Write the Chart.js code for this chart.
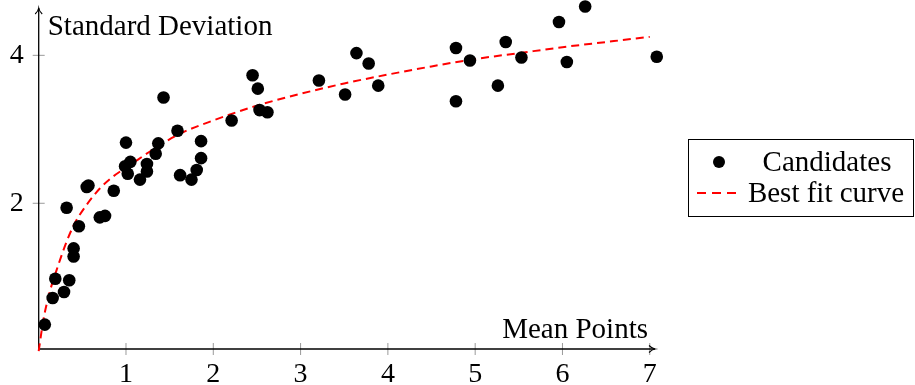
<!DOCTYPE html>
<html>
<head>
<meta charset="utf-8">
<script src="https://cdn.jsdelivr.net/npm/chart.js@4"></script>
<style>
html, body { margin: 0; padding: 0; background: #fff; }
#wrap { width: 915px; height: 385px; }
</style>
</head>
<body>
<div id="wrap"><canvas id="chart" width="915" height="385"></canvas></div>
<script>
// candidates: mean points vs standard deviation
const meanPoints = [0.07, 0.16, 0.19, 0.29, 0.35, 0.40, 0.40, 0.32, 0.46, 0.70, 0.76, 0.55, 0.57, 0.86,
    1.00, 0.99, 1.05, 1.02, 1.16, 1.24, 1.24, 1.34, 1.37, 1.59, 1.86, 1.86, 1.62, 1.75, 1.81, 1.43,
    2.21, 2.45, 2.51, 2.53, 2.62, 3.21, 3.51, 3.64, 3.78, 3.89, 4.78, 4.94, 4.78, 5.26, 5.35, 5.53,
    5.96, 6.05, 6.26, 7.08];
const stdDev = [0.36, 0.72, 0.98, 0.80, 0.96, 1.39, 1.28, 1.94, 1.69, 1.81, 1.83, 2.22, 2.24, 2.17,
    2.82, 2.50, 2.56, 2.40, 2.32, 2.53, 2.43, 2.67, 2.81, 2.98, 2.84, 2.61, 2.38, 2.32, 2.45, 3.43,
    3.12, 3.73, 3.55, 3.26, 3.23, 3.66, 3.47, 4.03, 3.89, 3.59, 4.10, 3.93, 3.38, 3.59, 4.18, 3.97,
    4.45, 3.91, 4.66, 3.98];

// best fit curve
const fitX = [0, 0.05, 0.1, 0.15, 0.2, 0.3, 0.4, 0.55, 0.7, 0.85, 1.05, 1.3, 1.6, 2, 2.5, 3, 3.5, 4, 4.5, 5, 5.5, 6, 6.5, 7];
const fitY = [0, 0.40, 0.68, 0.90, 1.08, 1.42, 1.70, 1.98, 2.20, 2.36, 2.52, 2.72, 2.93, 3.12, 3.32, 3.48, 3.62, 3.74, 3.85, 3.95, 4.03, 4.11, 4.18, 4.25];

const xTickValues = [1, 2, 3, 4, 5, 6, 7];
const yTickValues = [2, 4];
const seriesNames = ["Candidates", "Best fit curve"];
const xTitle = "Mean Points";
const yTitle = "Standard Deviation";

const FONT = "'Liberation Serif', 'Times New Roman', serif";
Chart.defaults.font.family = FONT;
Chart.defaults.font.size = 28;
Chart.defaults.color = "#000";

function seg(ctx, x1, y1, x2, y2) {
    ctx.beginPath();
    ctx.moveTo(x1, y1);
    ctx.lineTo(x2, y2);
    ctx.stroke();
}

const axesPlugin = {
    id: "axes",
    beforeDatasetsDraw(chart) {
        const ctx = chart.ctx;
        const xs = chart.scales.x, ys = chart.scales.y, a = chart.chartArea;
        const x0 = xs.getPixelForValue(0);
        const yb = a.bottom;
        ctx.save();
        // tick marks crossing the axes
        ctx.strokeStyle = "#9a9a9a";
        ctx.lineWidth = 1;
        xTickValues.forEach(v => {
            const p = xs.getPixelForValue(v);
            seg(ctx, p, yb - 6, p, yb + 6);
        });
        yTickValues.forEach(v => {
            const p = ys.getPixelForValue(v);
            seg(ctx, x0 - 6, p, x0 + 6, p);
        });
        // axis lines with arrows
        ctx.strokeStyle = "#000";
        ctx.lineWidth = 1.3;
        seg(ctx, x0, yb, x0, a.top);
        seg(ctx, x0, yb, a.right, yb);
        ctx.lineWidth = 1.1;
        ctx.beginPath();
        ctx.moveTo(x0 - 3.5, a.top + 6);
        ctx.quadraticCurveTo(x0 - 0.5, a.top + 3, x0, a.top);
        ctx.quadraticCurveTo(x0 + 0.5, a.top + 3, x0 + 3.5, a.top + 6);
        ctx.stroke();
        ctx.beginPath();
        ctx.moveTo(a.right - 6, yb - 3.5);
        ctx.quadraticCurveTo(a.right - 3, yb - 0.5, a.right, yb);
        ctx.quadraticCurveTo(a.right - 3, yb + 0.5, a.right - 6, yb + 3.5);
        ctx.stroke();
        ctx.restore();
    },
    afterDraw(chart) {
        const ctx = chart.ctx;
        const a = chart.chartArea;
        ctx.save();
        ctx.fillStyle = "#000";
        ctx.font = "29px " + FONT;
        ctx.textBaseline = "alphabetic";
        ctx.textAlign = "left";
        ctx.fillText(yTitle, a.left + 9, 35);
        ctx.textAlign = "right";
        ctx.fillText(xTitle, a.right - 7, a.bottom - 11);

        // legend box
        const bx = 688, by = 139, bw = 225, bh = 77;
        ctx.strokeStyle = "#000";
        ctx.lineWidth = 1;
        ctx.strokeRect(bx + 0.5, by + 0.5, bw, bh);
        const ds = chart.data.datasets;
        ctx.textAlign = "center";
        ctx.textBaseline = "middle";
        ctx.fillStyle = ds[0].backgroundColor;
        ctx.beginPath();
        ctx.arc(719, 162, 6, 0, Math.PI * 2);
        ctx.fill();
        ctx.fillStyle = "#000";
        ctx.fillText(ds[0].label, 827, 163);
        ctx.strokeStyle = ds[1].borderColor;
        ctx.lineWidth = ds[1].borderWidth;
        ctx.setLineDash([9, 6]);
        seg(ctx, 697, 193, 737, 193);
        ctx.setLineDash([]);
        ctx.fillText(ds[1].label, 826, 194);
        ctx.restore();
    }
};

const candidates = meanPoints.map((v, i) => ({ x: v, y: stdDev[i] }));
const fitCurve = fitX.map((v, i) => ({ x: v, y: fitY[i] }));

new Chart(document.getElementById("chart").getContext("2d"), {
    type: "scatter",
    data: {
        datasets: [
            {
                label: seriesNames[0],
                data: candidates,
                backgroundColor: "#000",
                borderWidth: 0,
                pointRadius: 6.3,
                pointHoverRadius: 6.3,
                clip: false
            },
            {
                label: seriesNames[1],
                data: fitCurve,
                showLine: true,
                borderColor: "#ff0000",
                borderWidth: 2,
                borderDash: [8, 5],
                pointRadius: 0,
                cubicInterpolationMode: "monotone",
                clip: false
            }
        ]
    },
    plugins: [axesPlugin],
    options: {
        responsive: false,
        devicePixelRatio: 1,
        animation: false,
        events: [],
        layout: { padding: { top: 8, right: 260, left: 0, bottom: 0 } },
        plugins: {
            legend: { display: false },
            tooltip: { enabled: false }
        },
        scales: {
            x: {
                type: "linear",
                min: 0,
                max: 7.06,
                grid: { display: false, drawTicks: false },
                border: { display: false },
                ticks: { padding: 9, maxRotation: 0 },
                afterBuildTicks: s => { s.ticks = xTickValues.map(v => ({ value: v })); },
                afterFit: s => { s.height = 36; s.paddingLeft = 0; s.paddingRight = 0; }
            },
            y: {
                type: "linear",
                min: 0.03,
                max: 4.64,
                grid: { display: false, drawTicks: false },
                border: { display: false },
                ticks: { padding: 15 },
                afterBuildTicks: s => { s.ticks = yTickValues.map(v => ({ value: v })); },
                afterFit: s => { s.width = 38.7; s.paddingTop = 0; s.paddingBottom = 0; }
            }
        }
    }
});
</script>
</body>
</html>
